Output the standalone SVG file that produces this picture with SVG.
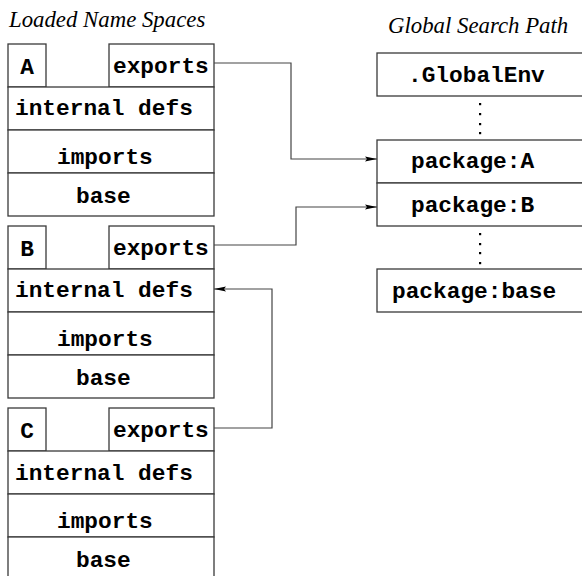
<svg xmlns="http://www.w3.org/2000/svg" width="582" height="576" viewBox="0 0 582 576">
<style>
.box{fill:#fff;stroke:#3a3a3a;stroke-width:1.3}
.t{font-family:"Liberation Mono","Courier New",monospace;font-weight:bold;font-size:22.8px;fill:#000}
.title{font-family:"Liberation Serif","Times New Roman",serif;font-style:italic;font-size:22.8px;fill:#000}
.conn{fill:none;stroke:#444;stroke-width:1.2}
.dot{fill:#000}
</style>
<defs>
<marker id="arr" viewBox="0 0 12 6" refX="12" refY="3" markerWidth="12" markerHeight="6" markerUnits="userSpaceOnUse" orient="auto">
<path d="M0,0.5 L12,3 L0,5.5 L2,3 Z" fill="#000"/>
</marker>
</defs>
<rect width="582" height="576" fill="#fff"/>
<text class="title" x="9" y="27">Loaded Name Spaces</text>
<text class="title" x="388" y="33">Global Search Path</text>

<g id="nsA">
<rect class="box" x="8" y="44" width="38" height="43"/>
<rect class="box" x="109" y="44" width="105" height="43"/>
<rect class="box" x="8" y="87" width="206" height="43"/>
<rect class="box" x="8" y="130" width="206" height="43"/>
<rect class="box" x="8" y="173" width="206" height="43"/>
<text class="t" x="27" y="74" text-anchor="middle">A</text>
<text class="t" x="113" y="73">exports</text>
<text class="t" x="15" y="115">internal defs</text>
<text class="t" x="57" y="164">imports</text>
<text class="t" x="76" y="203">base</text>
</g>

<g id="nsB">
<rect class="box" x="8" y="226" width="38" height="43"/>
<rect class="box" x="109" y="226" width="105" height="43"/>
<rect class="box" x="8" y="269" width="206" height="43"/>
<rect class="box" x="8" y="312" width="206" height="43"/>
<rect class="box" x="8" y="355" width="206" height="43"/>
<text class="t" x="27" y="256" text-anchor="middle">B</text>
<text class="t" x="113" y="255">exports</text>
<text class="t" x="15" y="297">internal defs</text>
<text class="t" x="57" y="346">imports</text>
<text class="t" x="76" y="385">base</text>
</g>

<g id="nsC">
<rect class="box" x="8" y="408" width="38" height="43"/>
<rect class="box" x="109" y="408" width="105" height="43"/>
<rect class="box" x="8" y="451" width="206" height="43"/>
<rect class="box" x="8" y="494" width="206" height="43"/>
<rect class="box" x="8" y="537" width="206" height="43"/>
<text class="t" x="27" y="438" text-anchor="middle">C</text>
<text class="t" x="113" y="437">exports</text>
<text class="t" x="15" y="480">internal defs</text>
<text class="t" x="57" y="528">imports</text>
<text class="t" x="76" y="567">base</text>
</g>

<g id="globalenv">
<rect class="box" x="377" y="53" width="220" height="43"/>
<text class="t" x="408" y="82">.GlobalEnv</text>
</g>
<g id="dots1">
<rect class="dot" x="479" y="103" width="2.2" height="2.2"/>
<rect class="dot" x="479" y="113" width="2.2" height="2.2"/>
<rect class="dot" x="479" y="123" width="2.2" height="2.2"/>
<rect class="dot" x="479" y="132" width="2.2" height="2.2"/>
</g>
<g id="pkgA">
<rect class="box" x="377" y="140" width="220" height="43"/>
<text class="t" x="411" y="168">package:A</text>
</g>
<g id="pkgB">
<rect class="box" x="377" y="183" width="220" height="43"/>
<text class="t" x="411" y="212">package:B</text>
</g>
<g id="dots2">
<rect class="dot" x="479" y="233" width="2.2" height="2.2"/>
<rect class="dot" x="479" y="243" width="2.2" height="2.2"/>
<rect class="dot" x="479" y="252" width="2.2" height="2.2"/>
<rect class="dot" x="479" y="262" width="2.2" height="2.2"/>
</g>
<g id="pkgbase">
<rect class="box" x="377" y="269" width="220" height="43"/>
<text class="t" x="392" y="298">package:base</text>
</g>

<g id="connectors">
<polyline class="conn" points="214,63 291,63 291,159 377,159" marker-end="url(#arr)"/>
<polyline class="conn" points="214,245 296,245 296,207 377,207" marker-end="url(#arr)"/>
<polyline class="conn" points="214,428 272,428 272,289 214,289" marker-end="url(#arr)"/>
</g>
</svg>
